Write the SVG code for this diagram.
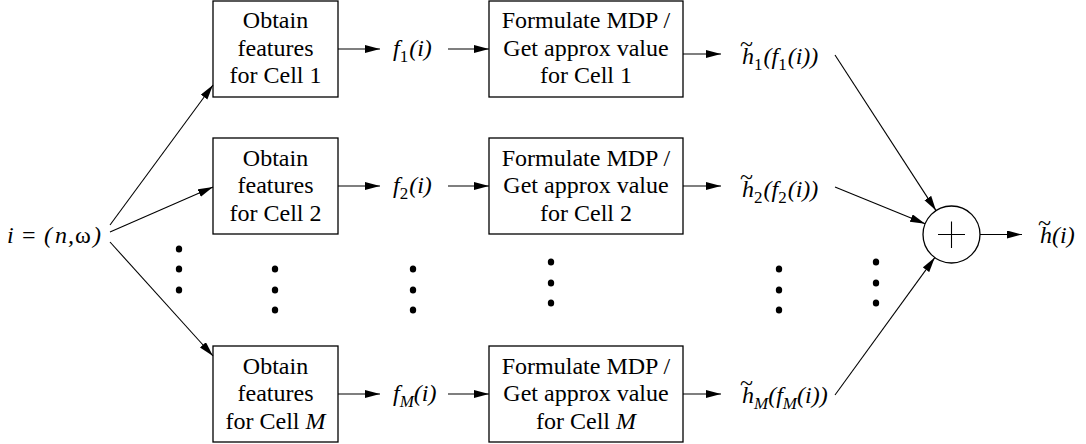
<svg xmlns="http://www.w3.org/2000/svg" width="1086" height="444" viewBox="0 0 1086 444">
  <defs>
    <marker id="arrow" markerUnits="userSpaceOnUse" markerWidth="16" markerHeight="9" refX="15" refY="4" orient="auto">
      <path d="M0,0 L15,4 L0,8 z" fill="#000"/>
    </marker>
    <style>
      .box { fill: #fff; stroke: #000; stroke-width: 1.3; }
      .lbl { font-family: "Liberation Serif", "Times New Roman", serif; font-size: 24px; fill: #000; text-anchor: middle; }
      .m { font-family: "Liberation Serif", "Times New Roman", serif; font-size: 24px; font-style: italic; fill: #000; }
      .up { font-style: normal; }
      .sub { font-size: 17px; }
      .wire { fill: none; stroke: #000; stroke-width: 1.1; }
      .arr { fill: none; stroke: #000; stroke-width: 1.1; marker-end: url(#arrow); }
      .dot { fill: #000; }
    </style>
  </defs>

  <!-- input state -->
  <g id="input">
    <text class="m"><tspan x="7" y="243">i</tspan><tspan class="up" x="22" y="243">=</tspan><tspan x="44" y="243">(</tspan><tspan x="55" y="243">n</tspan><tspan x="68" y="243">,</tspan><tspan class="up" x="75" y="243">ω</tspan><tspan x="93" y="243">)</tspan></text>
  </g>

  <!-- feature extraction blocks -->
  <g id="feat1">
    <rect class="box" x="213" y="1" width="125" height="96"/>
    <text class="lbl" x="275.5" y="28">Obtain</text>
    <text class="lbl" x="275.5" y="55.5">features</text>
    <text class="lbl" x="275.5" y="83">for Cell 1</text>
  </g>
  <g id="feat2">
    <rect class="box" x="213" y="138" width="125" height="96"/>
    <text class="lbl" x="275.5" y="165.5">Obtain</text>
    <text class="lbl" x="275.5" y="193">features</text>
    <text class="lbl" x="275.5" y="220.5">for Cell 2</text>
  </g>
  <g id="featM">
    <rect class="box" x="213" y="346" width="125" height="96"/>
    <text class="lbl" x="275.5" y="373.5">Obtain</text>
    <text class="lbl" x="275.5" y="401">features</text>
    <text class="lbl" x="275.5" y="428.5">for Cell <tspan font-style="italic">M</tspan></text>
  </g>

  <!-- feature vectors -->
  <g id="f1"><text class="m" x="393" y="56">f<tspan class="sub up" dy="6">1</tspan><tspan dy="-6" dx="1">(i)</tspan></text></g>
  <g id="f2"><text class="m" x="393" y="193">f<tspan class="sub up" dy="6">2</tspan><tspan dy="-6" dx="1">(i)</tspan></text></g>
  <g id="fM"><text class="m" x="393" y="401">f<tspan class="sub" dy="6">M</tspan><tspan dy="-6">(i)</tspan></text></g>

  <!-- MDP / approximation blocks -->
  <g id="mdp1">
    <rect class="box" x="489" y="1" width="194" height="96"/>
    <text class="lbl" x="586" y="28">Formulate MDP /</text>
    <text class="lbl" x="586" y="55.5">Get approx value</text>
    <text class="lbl" x="586" y="83">for Cell 1</text>
  </g>
  <g id="mdp2">
    <rect class="box" x="489" y="138" width="194" height="96"/>
    <text class="lbl" x="586" y="165.5">Formulate MDP /</text>
    <text class="lbl" x="586" y="193">Get approx value</text>
    <text class="lbl" x="586" y="220.5">for Cell 2</text>
  </g>
  <g id="mdpM">
    <rect class="box" x="489" y="346" width="194" height="96"/>
    <text class="lbl" x="586" y="373.5">Formulate MDP /</text>
    <text class="lbl" x="586" y="401">Get approx value</text>
    <text class="lbl" x="586" y="428.5">for Cell <tspan font-style="italic">M</tspan></text>
  </g>

  <!-- approximate cell values (tilde set back over the h) -->
  <g id="h1">
    <text class="m" x="740" y="64">h<tspan class="up" dx="-14" dy="-12">~</tspan><tspan class="sub up" dx="1" dy="18">1</tspan><tspan dy="-6" dx="1">(f</tspan><tspan class="sub up" dy="6">1</tspan><tspan dy="-6" dx="1">(i))</tspan></text>
  </g>
  <g id="h2">
    <text class="m" x="740" y="197">h<tspan class="up" dx="-14" dy="-12">~</tspan><tspan class="sub up" dx="1" dy="18">2</tspan><tspan dy="-6" dx="1">(f</tspan><tspan class="sub up" dy="6">2</tspan><tspan dy="-6" dx="1">(i))</tspan></text>
  </g>
  <g id="hM">
    <text class="m" x="740" y="403">h<tspan class="up" dx="-14" dy="-12">~</tspan><tspan class="sub" dx="1" dy="18">M</tspan><tspan dy="-6">(f</tspan><tspan class="sub" dy="6">M</tspan><tspan dy="-6">(i))</tspan></text>
  </g>

  <!-- summing junction -->
  <g id="sum">
    <circle class="box" cx="951.5" cy="234.5" r="28.5"/>
    <path class="wire" d="M938,234.5 H965 M951.5,221.5 V248"/>
  </g>

  <!-- output -->
  <g id="output">
    <text class="m" x="1038" y="243">h<tspan class="up" dx="-14" dy="-12">~</tspan><tspan dx="1" dy="12">(i)</tspan></text>
  </g>

  <!-- ellipsis dots -->
  <g id="dots">
    <ellipse class="dot" cx="179" cy="249" rx="3.2" ry="3.6"/>
    <ellipse class="dot" cx="179" cy="269" rx="3.2" ry="3.6"/>
    <ellipse class="dot" cx="179" cy="290" rx="3.2" ry="3.6"/>
    <ellipse class="dot" cx="275" cy="269" rx="3.2" ry="3.6"/>
    <ellipse class="dot" cx="275" cy="290" rx="3.2" ry="3.6"/>
    <ellipse class="dot" cx="275" cy="310" rx="3.2" ry="3.6"/>
    <ellipse class="dot" cx="413" cy="269" rx="3.2" ry="3.6"/>
    <ellipse class="dot" cx="413" cy="290" rx="3.2" ry="3.6"/>
    <ellipse class="dot" cx="413" cy="310" rx="3.2" ry="3.6"/>
    <ellipse class="dot" cx="551" cy="262" rx="3.2" ry="3.6"/>
    <ellipse class="dot" cx="551" cy="283" rx="3.2" ry="3.6"/>
    <ellipse class="dot" cx="551" cy="303" rx="3.2" ry="3.6"/>
    <ellipse class="dot" cx="779" cy="269" rx="3.2" ry="3.6"/>
    <ellipse class="dot" cx="779" cy="290" rx="3.2" ry="3.6"/>
    <ellipse class="dot" cx="779" cy="310" rx="3.2" ry="3.6"/>
    <ellipse class="dot" cx="876" cy="262" rx="3.2" ry="3.6"/>
    <ellipse class="dot" cx="876" cy="283" rx="3.2" ry="3.6"/>
    <ellipse class="dot" cx="876" cy="303" rx="3.2" ry="3.6"/>
  </g>

  <!-- connectors -->
  <g id="connectors">
    <line class="arr" x1="110" y1="225" x2="213" y2="85"/>
    <line class="arr" x1="110" y1="232" x2="213" y2="187"/>
    <line class="arr" x1="110" y1="242" x2="213" y2="356"/>

    <line class="arr" x1="338" y1="49" x2="380" y2="49"/>
    <line class="arr" x1="448" y1="49" x2="489" y2="49"/>
    <line class="arr" x1="683" y1="54" x2="721" y2="54"/>

    <line class="arr" x1="338" y1="186" x2="380" y2="186"/>
    <line class="arr" x1="448" y1="186" x2="489" y2="186"/>
    <line class="arr" x1="683" y1="186" x2="721" y2="186"/>

    <line class="arr" x1="338" y1="394" x2="380" y2="394"/>
    <line class="arr" x1="448" y1="394" x2="489" y2="394"/>
    <line class="arr" x1="683" y1="394" x2="721" y2="394"/>

    <line class="arr" x1="835" y1="55" x2="936" y2="210.6"/>
    <line class="arr" x1="835" y1="187" x2="925.1" y2="223.8"/>
    <line class="arr" x1="835" y1="395" x2="934.8" y2="257.6"/>

    <line class="arr" x1="980" y1="234.5" x2="1022" y2="234.5"/>
  </g>
</svg>
